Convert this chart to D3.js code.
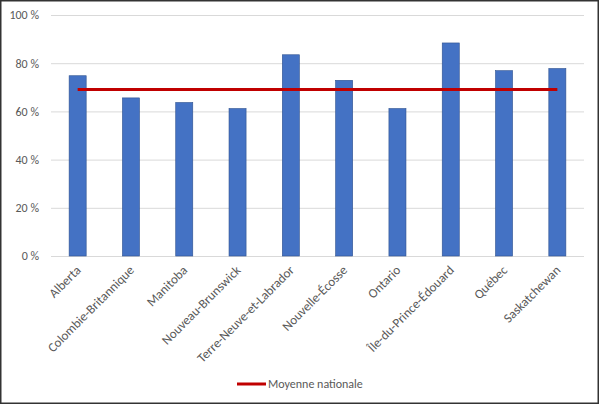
<!DOCTYPE html>
<html>
<head>
<meta charset="utf-8">
<script src="https://cdn.jsdelivr.net/npm/d3@7"></script>
<style>
  body { margin: 0; background: #fff; }
  text { font-family: Carlito, Lato, "Open Sans", sans-serif; }
</style>
</head>
<body>
<div id="chart"></div>
<script>
var provinces = ['Alberta', 'Colombie-Britannique', 'Manitoba', 'Nouveau-Brunswick',
  'Terre-Neuve-et-Labrador', 'Nouvelle-Écosse', 'Ontario', 'Île-du-Prince-Édouard',
  'Québec', 'Saskatchewan'];
var rates = [74.8, 65.6, 63.7, 61.2, 83.5, 72.9, 61.2, 88.4, 76.9, 77.8];
var nationalAvg = [69.1, 69.1, 69.1, 69.1, 69.1, 69.1, 69.1, 69.1, 69.1, 69.1];
var yTicks = [0, 20, 40, 60, 80, 100];
var legendLabel = 'Moyenne nationale';

var width = 600, height = 405;
var margin = { top: 15, right: 16, bottom: 149, left: 51 };

var svg = d3.select('#chart').append('svg')
    .attr('width', width)
    .attr('height', height);

svg.append('rect')
    .attr('x', 0.75).attr('y', 0.75)
    .attr('width', width - 2.5).attr('height', height - 2.5)
    .attr('fill', '#fff')
    .attr('stroke', '#333')
    .attr('stroke-width', 1.5);

var x = d3.scaleBand()
    .domain(provinces)
    .range([margin.left, width - margin.right])
    .paddingInner(0.68)
    .paddingOuter(0.34);

var y = d3.scaleLinear()
    .domain([0, 100])
    .range([height - margin.bottom, margin.top]);

// gridlines + y labels
var yAxis = svg.append('g')
    .attr('transform', 'translate(' + margin.left + ',0)')
    .call(d3.axisLeft(y)
      .tickValues(yTicks)
      .tickSize(-(width - margin.left - margin.right))
      .tickPadding(12)
      .tickFormat(function(d) { return d + ' %'; }));

yAxis.select('.domain').remove();
yAxis.selectAll('.tick line').attr('stroke', '#d9d9d9').attr('stroke-width', 1);
yAxis.selectAll('.tick text')
    .attr('fill', '#595959')
    .style('font-size', '12px');

// bars
svg.append('g').selectAll('rect')
    .data(rates)
    .enter().append('rect')
    .attr('x', function(d, i) { return x(provinces[i]); })
    .attr('y', function(d) { return y(d); })
    .attr('width', x.bandwidth())
    .attr('height', function(d) { return y(0) - y(d); })
    .attr('fill', '#4472c4')
    .attr('stroke', '#2f528f')
    .attr('stroke-width', 0.6);

// x labels
var xAxis = svg.append('g')
    .attr('transform', 'translate(0,' + y(0) + ')')
    .call(d3.axisBottom(x).tickSize(0).tickPadding(0));

xAxis.select('.domain').remove();
xAxis.selectAll('.tick text')
    .attr('fill', '#595959')
    .style('font-size', '13px')
    .attr('text-anchor', 'end')
    .attr('dy', 0)
    .attr('transform', 'translate(4,15) rotate(-45)');

// national average line
var line = d3.line()
    .x(function(d, i) { return x(provinces[i]) + x.bandwidth() / 2; })
    .y(function(d) { return y(d); });

svg.append('path')
    .datum(nationalAvg)
    .attr('d', line)
    .attr('fill', 'none')
    .attr('stroke', '#c00000')
    .attr('stroke-width', 3);

// legend
var legend = svg.append('g').attr('transform', 'translate(237,384)');
legend.append('line')
    .attr('x1', 0).attr('x2', 29)
    .attr('stroke', '#c00000')
    .attr('stroke-width', 3);
legend.append('text')
    .attr('x', 31)
    .attr('dy', '0.35em')
    .attr('fill', '#595959')
    .style('font-size', '12px')
    .text(legendLabel);
</script>
</body>
</html>
